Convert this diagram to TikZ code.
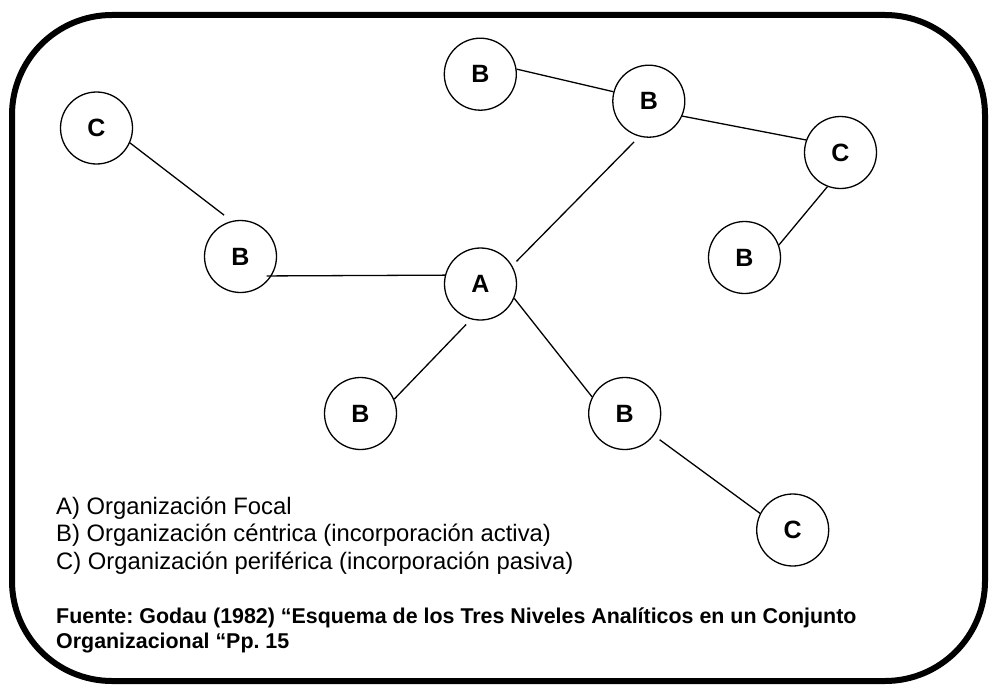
\documentclass[tikz,border=0pt]{standalone}
\usepackage{fontspec}
\setmainfont{Liberation Sans}
\frenchspacing
\usetikzlibrary{calc}

\begin{document}
\begin{tikzpicture}[x=1pt,y=-1pt]

    \tikzset{
      org/.style={
        circle,
        draw,
        line width=1.3pt,
        inner sep=0pt,
        minimum size=72pt,
        font=\fontsize{25}{30}\selectfont\bfseries,
      },
      enlace/.style={line width=1.3pt},
      leyenda/.style={anchor=base west,inner sep=0pt,font=\fontsize{23.8}{27.8}\selectfont},
      fuente/.style={anchor=base west,inner sep=0pt,font=\fontsize{21.4}{25}\selectfont\bfseries},
    }
    \useasboundingbox (0,0) rectangle (990,685);
	\draw[line width=6pt,rounded corners=100pt] (12,15) rectangle (985,681);

	\node[org] (c1) at (96.5,128) {C};
	\node[org] (b1) at (240.5,256.5) {B};
	\node[org] (a) at (480.5,284) {A};
	\node[org] (b2) at (480.3,74.2) {B};
	\node[org] (b3) at (648.8,101.2) {B};
	\node[org] (c2) at (840.5,152.5) {C};
	\node[org] (b4) at (744.5,257.5) {B};
	\node[org] (b5) at (360.5,413.5) {B};
	\node[org] (b6) at (624.7,413.5) {B};
	\node[org] (c3) at (792.7,530) {C};

\draw[enlace,shorten >=9.5pt] (c1.-24)--(b1.104.5);
\draw[enlace,shorten <=-5pt] (b1.-32)--(a.166);
\draw[enlace,shorten <=7pt] (a.-105)--(b5.23);
\draw[enlace] (a.-23.5)--(b6.153);
\draw[enlace,shorten <=6pt,shorten >=7.5pt] (a.30)--(b3.-105);
\draw[enlace] (b2.8)--(b3.165);
\draw[enlace] (b3.-24)--(c2.160);
\draw[enlace] (c2.-111)--(b4.20);
\draw[enlace,shorten <=7pt] (b6.-37)--(c3.153);

	\node[leyenda] (ley1) at (56,514) {A) Organización Focal};
	\node[leyenda] (ley2) at (56,541.8) {B) Organización céntrica (incorporación activa)};
	\node[leyenda] (ley3) at (56,569.6) {C) Organización periférica (incorporación pasiva)};
	\node[fuente] (fte1) at (56,623) {Fuente: Godau (1982) “Esquema de los Tres Niveles Analíticos en un Conjunto};
	\node[fuente] (fte2) at (56,648) {Organizacional “Pp. 15};

\end{tikzpicture}
\end{document}
